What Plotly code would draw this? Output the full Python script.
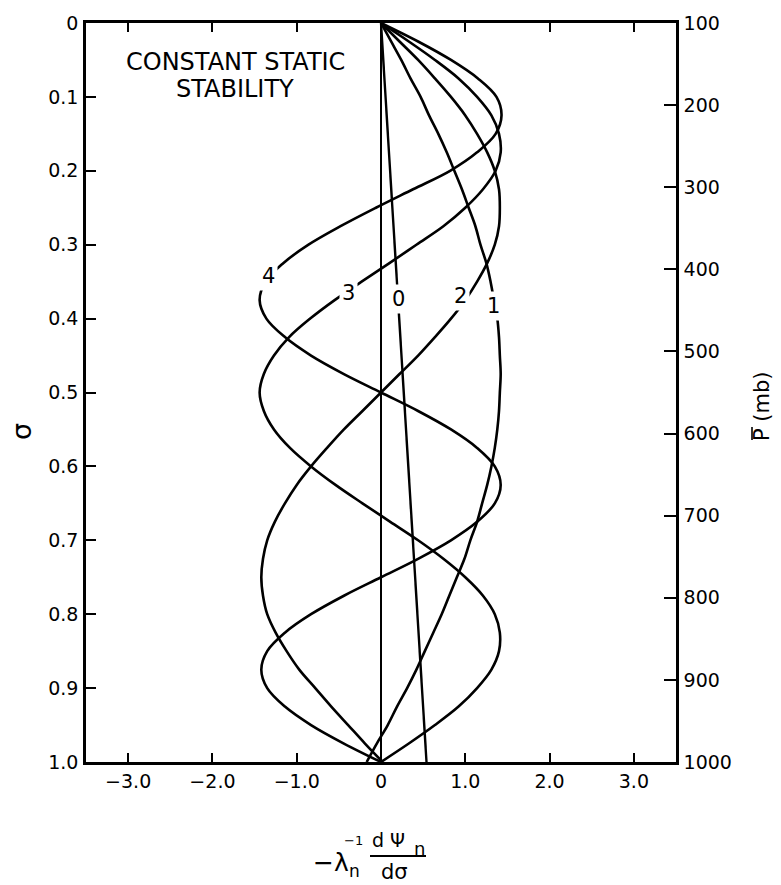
import plotly.graph_objects as go

# Vertical levels (sigma) at which the mode profiles are tabulated
SIGMA = [0.0, 0.025, 0.05, 0.075, 0.1, 0.125, 0.15, 0.175, 0.2, 0.225,
         0.25, 0.275, 0.3, 0.325, 0.35, 0.375, 0.4, 0.425, 0.45, 0.475,
         0.5, 0.525, 0.55, 0.575, 0.6, 0.625, 0.65, 0.675, 0.7, 0.725,
         0.75, 0.775, 0.8, 0.825, 0.85, 0.875, 0.9, 0.925, 0.95, 0.975, 1.0]

# -lambda_n^-1 dPsi_n/dsigma for each vertical mode
MODE_0_SIGMA = [0.0, 1.0]
MODE_0 = [0.0, 0.54]

MODE_1 = [0.0, 0.12, 0.24, 0.35, 0.47, 0.57, 0.68, 0.78, 0.87, 0.96,
          1.04, 1.12, 1.18, 1.25, 1.30, 1.34, 1.38, 1.40, 1.41, 1.42,
          1.41, 1.40, 1.38, 1.35, 1.31, 1.26, 1.20, 1.14, 1.06, 0.99,
          0.90, 0.81, 0.72, 0.62, 0.52, 0.42, 0.31, 0.19, 0.08, -0.05, -0.17]

MODE_2 = [0.0, 0.22, 0.44, 0.64, 0.83, 1.00, 1.14, 1.26, 1.35, 1.40,
          1.41, 1.40, 1.35, 1.26, 1.14, 1.00, 0.83, 0.64, 0.44, 0.22,
          0.0, -0.22, -0.44, -0.64, -0.83, -1.00, -1.14, -1.26, -1.35, -1.40,
          -1.42, -1.40, -1.35, -1.25, -1.12, -0.97, -0.78, -0.59, -0.39, -0.19, 0.02]

MODE_3 = [0.0, 0.33, 0.64, 0.92, 1.14, 1.31, 1.40, 1.42, 1.36, 1.21,
          1.00, 0.74, 0.42, 0.10, -0.23, -0.55, -0.84, -1.09, -1.27, -1.39,
          -1.44, -1.39, -1.27, -1.08, -0.83, -0.54, -0.22, 0.11, 0.44, 0.74,
          1.00, 1.21, 1.35, 1.41, 1.40, 1.31, 1.14, 0.92, 0.64, 0.33, 0.0]

MODE_4 = [0.0, 0.44, 0.83, 1.15, 1.37, 1.43, 1.36, 1.14, 0.82, 0.38,
          -0.06, -0.48, -0.86, -1.16, -1.37, -1.44, -1.36, -1.14, -0.83, -0.44,
          0.0, 0.44, 0.83, 1.14, 1.35, 1.42, 1.35, 1.14, 0.83, 0.44,
          0.0, -0.44, -0.83, -1.14, -1.35, -1.42, -1.35, -1.14, -0.83, -0.44, 0.0]

MODE_NAMES = ["0", "1", "2", "3", "4"]

# Axis ticks
X_TICKS = [-3, -2, -1, 0, 1, 2, 3]
X_TICK_TEXT = ["\u22123.0", "\u22122.0", "\u22121.0", "0", "1.0", "2.0", "3.0"]
SIGMA_TICKS = [0, 0.1, 0.2, 0.3, 0.4, 0.5, 0.6, 0.7, 0.8, 0.9, 1.0]
SIGMA_TICK_TEXT = ["0", "0.1", "0.2", "0.3", "0.4", "0.5", "0.6", "0.7", "0.8", "0.9", "1.0"]
P_TICKS = [100, 200, 300, 400, 500, 600, 700, 800, 900, 1000]
P_TICK_TEXT = ["100", "200", "300", "400", "500", "600", "700", "800", "900", "1000"]

W, H = 781, 885
PLOT_L, PLOT_R, PLOT_T, PLOT_B = 86, 676, 23, 762
FONT = "DejaVu Sans"
INK = "#000000"


def px(x):
    return (x - PLOT_L) / (PLOT_R - PLOT_L)


def py(y):
    return (PLOT_B - y) / (PLOT_B - PLOT_T)


fig = go.Figure()

line_style = dict(color=INK, width=2.6, shape="spline", smoothing=1.0)
fig.add_trace(go.Scatter(x=MODE_0, y=MODE_0_SIGMA, mode="lines",
                         line=dict(color=INK, width=2.4), name=MODE_NAMES[0]))
for name, vals in zip(MODE_NAMES[1:], [MODE_1, MODE_2, MODE_3, MODE_4]):
    fig.add_trace(go.Scatter(x=vals, y=SIGMA, mode="lines", line=line_style, name=name))

# pressure scale on the right-hand axis
fig.add_trace(go.Scatter(x=[0], y=[P_TICKS[0]], yaxis="y2", mode="markers",
                         marker=dict(opacity=0), showlegend=False, hoverinfo="skip"))

# mode labels sitting in small gaps along each curve
label_pos = {"4": (-1.33, 0.343), "3": (-0.38, 0.366), "0": (0.21, 0.374),
             "2": (0.94, 0.369), "1": (1.34, 0.383)}
annotations = []
for name in MODE_NAMES:
    lx, ly = label_pos[name]
    annotations.append(dict(x=lx, y=ly, xref="x", yref="y", text=name,
                            font=dict(size=21), bgcolor="white", borderpad=2))

annotations += [
    dict(x=px(235), y=py(62), text="CONSTANT STATIC", font=dict(size=24)),
    dict(x=px(235), y=py(89), text="STABILITY", font=dict(size=24)),
    dict(x=px(21), y=py(432), text="\u03c3", textangle=-90, font=dict(size=27)),
    dict(x=px(762), y=py(406), text="P (mb)", textangle=-90, font=dict(size=21)),
    # x-axis quantity: -lambda_n^-1 dPsi_n / dsigma
    dict(x=px(331), y=py(862), text="\u2212\u03bb", font=dict(size=25)),
    dict(x=px(354), y=py(871), text="n", font=dict(size=17)),
    dict(x=px(353), y=py(840), text="\u22121", font=dict(size=13)),
    dict(x=px(388), y=py(840), text="d \u03a8", font=dict(size=19)),
    dict(x=px(419), y=py(848), text="n", font=dict(size=18)),
    dict(x=px(394), y=py(872), text="d\u03c3", font=dict(size=21)),
]
for a in annotations:
    a.setdefault("xref", "paper")
    a.setdefault("yref", "paper")
    a["showarrow"] = False
    a["xanchor"] = "center"
    a["yanchor"] = "middle"
    a["font"] = dict(family=FONT, color=INK, **a["font"])

shapes = [
    # fraction bar of d(Psi_n)/d(sigma)
    dict(type="line", xref="paper", yref="paper",
         x0=px(370), x1=px(426), y0=py(856), y1=py(856),
         line=dict(color=INK, width=1.8)),
    # bar over the P of the pressure label
    dict(type="line", xref="paper", yref="paper",
         x0=px(752), x1=px(752), y0=py(427), y1=py(440),
         line=dict(color=INK, width=1.6)),
]

fig.update_layout(
    width=W, height=H, autosize=False,
    margin=dict(l=PLOT_L, r=W - PLOT_R, t=PLOT_T, b=H - PLOT_B, pad=0),
    paper_bgcolor="white", plot_bgcolor="white",
    font=dict(family=FONT, size=19, color=INK),
    showlegend=False, hovermode=False,
    annotations=annotations, shapes=shapes,
    xaxis=dict(range=[-3.5, 3.5], tickvals=X_TICKS, ticktext=X_TICK_TEXT,
               ticks="inside", ticklen=9, tickwidth=2, tickcolor=INK,
               showline=True, linecolor=INK, linewidth=2.5, mirror="ticks",
               showgrid=False, zeroline=True, zerolinecolor=INK, zerolinewidth=2.4,
               ticklabelstandoff=0, tickfont=dict(size=19)),
    yaxis=dict(range=[1.0, 0.0], tickvals=SIGMA_TICKS, ticktext=SIGMA_TICK_TEXT,
               ticks="inside", ticklen=10, tickwidth=2, tickcolor=INK,
               showline=True, linecolor=INK, linewidth=2.5,
               showgrid=False, zeroline=False, ticklabelstandoff=1,
               tickfont=dict(size=19)),
    yaxis2=dict(range=[1000, 100], overlaying="y", side="right", anchor="x",
                tickvals=P_TICKS, ticktext=P_TICK_TEXT,
                ticks="inside", ticklen=12, tickwidth=2, tickcolor=INK,
                showline=True, linecolor=INK, linewidth=2.5,
                showgrid=False, zeroline=False, ticklabelstandoff=1,
                tickfont=dict(size=19)),
)

fig.write_html("out.html")
